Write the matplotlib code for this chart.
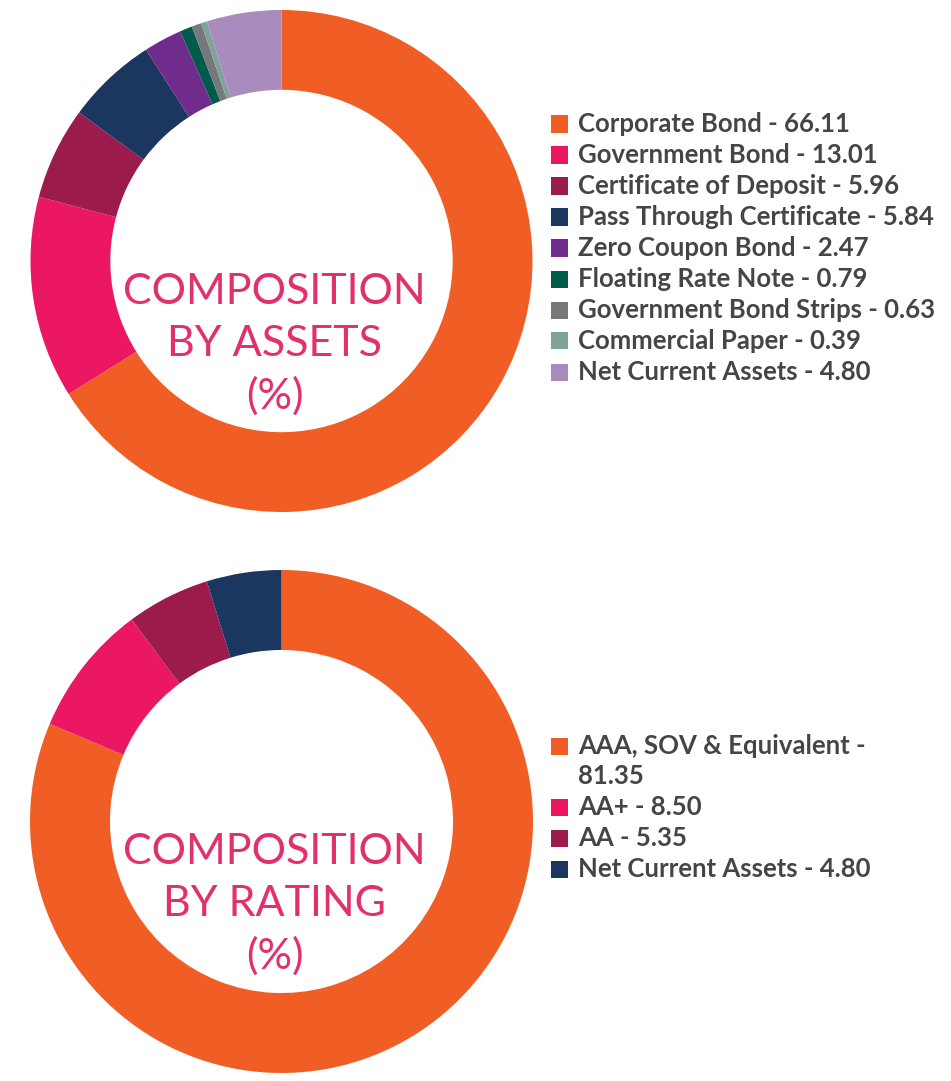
import matplotlib
matplotlib.use("Agg")
import matplotlib.pyplot as plt
from matplotlib.patches import Rectangle

plt.rcParams['font.family'] = ['Lato', 'DejaVu Sans']

# composition by assets
asset_names = ['Corporate Bond', 'Government Bond', 'Certificate of Deposit',
               'Pass Through Certificate', 'Zero Coupon Bond', 'Floating Rate Note',
               'Government Bond Strips', 'Commercial Paper', 'Net Current Assets']
asset_values = [66.11, 13.01, 5.96, 5.84, 2.47, 0.79, 0.63, 0.39, 4.80]
asset_colors = ['#F15E25', '#EC1763', '#9A1B4C', '#1B365F', '#6F2C8C',
                '#005B4B', '#77787B', '#7FA29A', '#A98BBD']

# composition by rating
rating_names = ['AAA, SOV & Equivalent', 'AA+', 'AA', 'Net Current Assets']
rating_values = [81.35, 8.50, 5.35, 4.80]
rating_colors = ['#F15E25', '#EC1763', '#9A1B4C', '#1B365F']

W, H = 951, 1081
fig = plt.figure(figsize=(W / 100, H / 100), dpi=100)

text_col = '#E1306B'
legend_col = '#454547'

def donut(cx, cy, r, values, colors, title):
    # cx, cy, r in pixels (y from top)
    ax = fig.add_axes([(cx - r) / W, 1 - (cy + r) / H, 2 * r / W, 2 * r / H])
    ax.pie(values, colors=colors, startangle=90, counterclock=False,
           radius=1.0, wedgeprops=dict(width=0.318, edgecolor='none'))
    ax.set_xlim(-1, 1)
    ax.set_ylim(-1, 1)
    ax.set_aspect('equal')
    ax.axis('off')
    for i, ln in enumerate(title.split('\n')):
        fig.text((cx - 7) / W, 1 - (cy + 31 + i * 52) / H, ln, ha='center', va='center',
                 fontsize=31, color=text_col)

def legend(x, rows):
    for y, label, color in rows:
        if color is not None:
            fig.patches.append(Rectangle((x / W, 1 - (y + 8.5) / H), 17 / W, 17 / H,
                                         transform=fig.transFigure, facecolor=color,
                                         edgecolor='none'))
        fig.text((x + 27) / W, 1 - y / H, label, ha='left', va='center',
                 fontsize=18.5, fontweight='bold', color=legend_col)

donut(281.5, 261, 251, asset_values, asset_colors, 'COMPOSITION\nBY ASSETS\n(%)')
donut(281.5, 821.5, 251.5, rating_values, rating_colors, 'COMPOSITION\nBY RATING\n(%)')

rows_a = []
for i, (n, v, c) in enumerate(zip(asset_names, asset_values, asset_colors)):
    rows_a.append((124 + i * 31, '%s - %.2f' % (n, v), c))
legend(551, rows_a)

rows_r = [(746, rating_names[0] + ' -', rating_colors[0]),
          (776, '%.2f' % rating_values[0], None)]
for i, (n, v, c) in enumerate(zip(rating_names[1:], rating_values[1:], rating_colors[1:])):
    rows_r.append((807 + i * 31, '%s - %.2f' % (n, v), c))
legend(551, rows_r)

fig.savefig('out.png', dpi=100, facecolor='white')
